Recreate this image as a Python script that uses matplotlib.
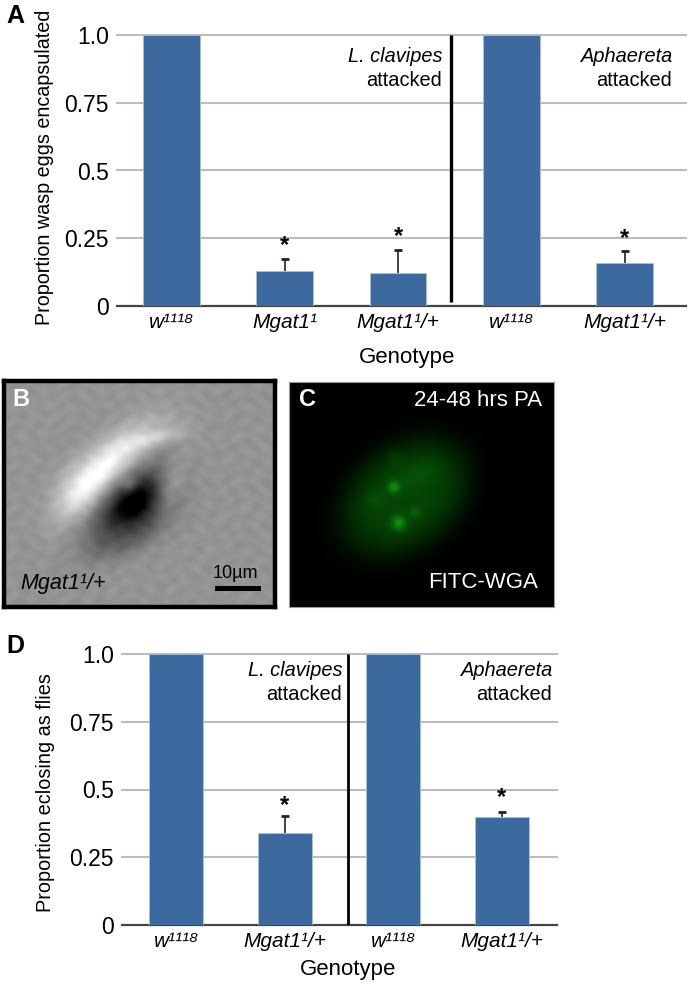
import matplotlib
matplotlib.use('Agg')
import matplotlib.pyplot as plt
from matplotlib.patches import Rectangle
import numpy as np

W, H = 688, 986

plt.rcParams['font.family'] = ['Liberation Sans', 'DejaVu Sans']

BLUE = '#3c6a9e'

Y_TICKS = [0, 0.25, 0.5, 0.75, 1.0]
Y_LABELS = ['0', '0.25', '0.5', '0.75', '1.0']

W1118 = 'w¹¹¹⁸'
MGAT = 'Mgat1¹'
MGAT_HET = 'Mgat1¹/+'

A_LABELS = [W1118, MGAT, MGAT_HET, W1118, MGAT_HET]
A_VALUES = [1.0, 0.13, 0.12, 1.0, 0.157]
A_ERR = [0, 0.045, 0.088, 0, 0.047]
A_STARS = [None, 0.225, 0.255, None, 0.25]

D_LABELS = [W1118, MGAT_HET, W1118, MGAT_HET]
D_VALUES = [1.0, 0.34, 1.0, 0.40]
D_ERR = [0, 0.062, 0, 0.017]
D_STARS = [None, 0.44, None, 0.47]

# x, y, long, short, angle, strength, edge sharpness (picture pixels)
B_BLOBS = [(122, 113, 72, 52, -42, -0.13, 3), (108, 82, 38, 15, -38, 0.42, 1),
           (88, 100, 30, 10, -52, 0.16, 1), (150, 58, 22, 5, -12, 0.16, 1),
           (132, 115, 20, 16, -50, -0.36, 1), (120, 130, 26, 12, -25, -0.22, 1),
           (118, 158, 36, 12, -25, -0.10, 1), (74, 122, 14, 22, 10, 0.17, 1),
           (166, 105, 9, 22, 20, 0.17, 1), (126, 104, 5, 5, 0, 0.20, 1)]
C_BLOBS = [(115, 115, 70, 50, -38, 0.26, 2), (104, 105, 4, 4, 0, 0.30, 1),
           (109, 141, 5, 5, 0, 0.32, 1), (125, 130, 4, 4, 0, 0.12, 1),
           (130, 92, 18, 9, -30, 0.06, 1), (85, 118, 7, 6, 0, 0.05, 1),
           (105, 75, 5, 5, 0, 0.05, 1)]


def px_axes(fig, x0, y0, x1, y1):
    return fig.add_axes([x0 / W, 1 - y1 / H, (x1 - x0) / W, (y1 - y0) / H])


def px_text(fig, x, y, s, **kw):
    kw.setdefault('va', 'center')
    return fig.text(x / W, 1 - y / H, s, **kw)


def blob_image(blobs, w, h, base):
    yy, xx = np.mgrid[0:h, 0:w]
    img = np.full((h, w), float(base))
    for x, y, a, b, ang, amp, p in blobs:
        t = np.deg2rad(ang)
        u = (xx - x) * np.cos(t) + (yy - y) * np.sin(t)
        v = -(xx - x) * np.sin(t) + (yy - y) * np.cos(t)
        r2 = (u / a) ** 2 + (v / b) ** 2
        if p == 1:
            img += amp * np.exp(-r2 / 2)
        else:
            img += amp * np.exp(-r2 ** p)
    return img


def bar_panel(fig, box, labels, values, err, stars, divider, div_lw, div_bottom, xlim, ylabel, ylab_size, notes, ylabel_x, ylabel_y):
    ax = px_axes(fig, *box)
    x = np.arange(len(values))
    ax.set_xlim(*xlim)
    ax.set_ylim(0, 1)
    for t in Y_TICKS[1:]:
        ax.axhline(t, color='#bcbcbc', lw=1.5, zorder=1, clip_on=False)
    ax.bar(x, values, width=0.5, color=BLUE, edgecolor='#a9c0da', lw=0.6, zorder=3)
    for i in x:
        if err[i] > 0:
            top = values[i] + err[i]
            ax.vlines(i, values[i], top, color='#222222', lw=1.2, zorder=2)
            ax.plot([i], [top], marker='_', ms=6, mew=2, color='#222222', zorder=2)
        if stars[i] is not None:
            ax.text(i, stars[i], '*', ha='center', va='center', fontsize=17, fontweight='bold')
    ax.plot([divider, divider], [div_bottom, 1.0], color='black', lw=div_lw, zorder=4, solid_capstyle='butt')
    for s in ['top', 'left', 'right']:
        ax.spines[s].set_visible(False)
    ax.spines['bottom'].set_color('#444444')
    ax.spines['bottom'].set_linewidth(1.6)
    ax.set_xticks(x)
    ax.set_xticklabels(labels, fontsize=15, style='italic')
    ax.set_yticks(Y_TICKS)
    ax.set_yticklabels(Y_LABELS, fontsize=16.5)
    ax.tick_params(length=0)
    ax.tick_params(axis='x', pad=5)
    ax.tick_params(axis='y', pad=6)
    px_text(fig, ylabel_x, ylabel_y, ylabel, rotation=90, ha='center', fontsize=ylab_size)
    for nx, ny, s, st in notes:
        px_text(fig, nx, ny, s, ha='right', fontsize=14.4, style=st)
    return ax


fig = plt.figure(figsize=(W / 100, H / 100), dpi=100)

bar_panel(fig, (117, 35, 686, 306), A_LABELS, A_VALUES, A_ERR, A_STARS, 2.47, 2.4, 0.015, (-0.48, 4.54),
          'Proportion wasp eggs encapsulated', 14.2,
          [(442, 56, 'L. clavipes', 'italic'), (442, 80, 'attacked', 'normal'),
           (673, 56, 'Aphaereta', 'italic'), (672, 80, 'attacked', 'normal')], 45, 167)
px_text(fig, 407, 357, 'Genotype', ha='center', fontsize=16)
px_text(fig, 6, 16, 'A', fontsize=18, fontweight='bold')

bar_panel(fig, (122, 654, 557, 925), D_LABELS, D_VALUES, D_ERR, D_STARS, 1.58, 2, 0, (-0.5, 3.51),
          'Proportion eclosing as flies', 14.3,
          [(342, 671, 'L. clavipes', 'italic'), (342, 695, 'attacked', 'normal'),
           (553, 671, 'Aphaereta', 'italic'), (552, 695, 'attacked', 'normal')], 46, 793)
px_text(fig, 348, 970, 'Genotype', ha='center', fontsize=16)
px_text(fig, 6, 646, 'D', fontsize=18, fontweight='bold')

# panel B, phase contrast picture
ax_b = px_axes(fig, 4, 381, 275, 607)
yy, xx = np.mgrid[0:226, 0:271]
tex = (0.010 * np.sin(xx / 3.1 + np.sin(yy / 7.0) * 2) + 0.010 * np.sin(yy / 2.3 + np.sin(xx / 9.0) * 3)
       + 0.006 * np.sin(xx * yy / 900.0))
ax_b.imshow(blob_image(B_BLOBS, 271, 226, 0.58) + tex, cmap='gray', vmin=0, vmax=1, aspect='auto', interpolation='bilinear')
ax_b.set_xticks([])
ax_b.set_yticks([])
for s in ax_b.spines.values():
    s.set_color('black')
    s.set_linewidth(3.2)
ax_b.add_patch(Rectangle((210, 204), 46, 5, color='black', lw=0))
px_text(fig, 12, 400, 'B', color='white', fontsize=17, fontweight='bold', ha='left')
px_text(fig, 235, 574, '10µm', ha='center', fontsize=13)
px_text(fig, 20, 583, MGAT_HET, fontsize=15.5, ha='left', style='italic')

# panel C, fluorescence picture
ax_c = px_axes(fig, 289, 382, 554, 607)
g = np.clip(blob_image(C_BLOBS, 265, 225, 0.0), 0, 1)
rgb = np.dstack([g * 0.08, g, g * 0.08])
ax_c.imshow(rgb, aspect='auto', interpolation='bilinear')
ax_c.set_xticks([])
ax_c.set_yticks([])
for s in ax_c.spines.values():
    s.set_color('#999999')
    s.set_linewidth(0.8)
px_text(fig, 299, 399, 'C', color='white', fontsize=17, fontweight='bold', ha='left')
px_text(fig, 542, 401, '24-48 hrs PA', color='white', fontsize=16, ha='right')
px_text(fig, 538, 583, 'FITC-WGA', color='white', fontsize=16, ha='right')

fig.savefig('out.png', dpi=100)
